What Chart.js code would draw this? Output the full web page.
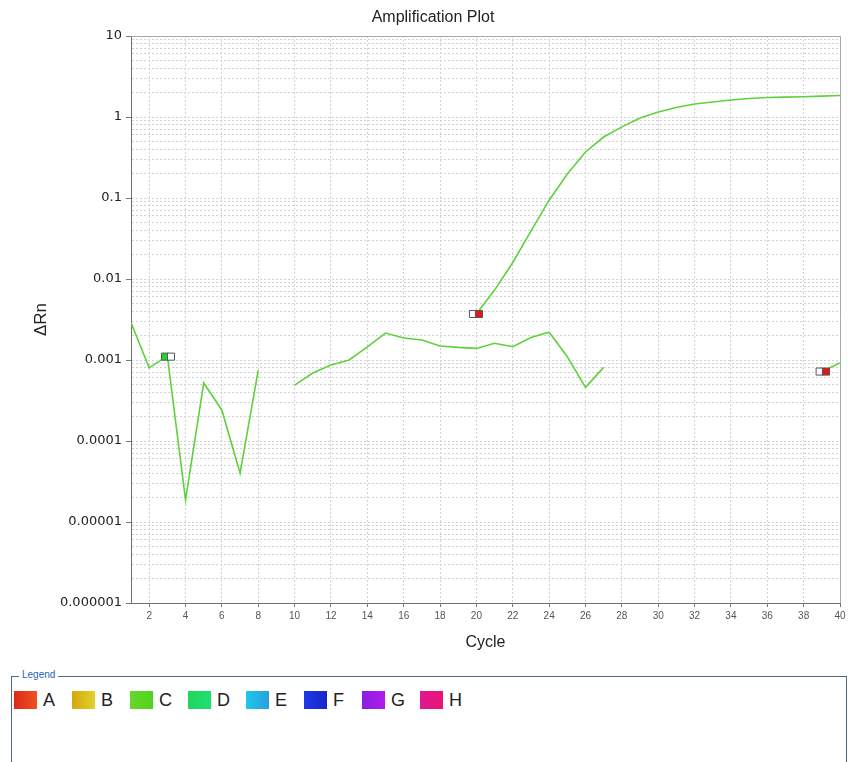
<!DOCTYPE html>
<html>
<head>
<meta charset="utf-8">
<script src="https://cdn.jsdelivr.net/npm/chart.js@4"></script>
<style>
  html, body { margin: 0; padding: 0; background: #fff; width: 851px; height: 762px; overflow: hidden; position: relative; font-family: "Liberation Sans", Arial, sans-serif; }
  #wrap { position: absolute; left: 0; top: 0; width: 851px; height: 665px; }
  #legendBox { position: absolute; left: 11px; top: 676px; width: 836px; height: 110px; border: 1px solid #4f6a82; box-sizing: border-box; }
  #legendTitle { position: absolute; left: 19px; top: 668px; font-size: 10px; line-height: 14px; color: #2b5fb4; background: #fff; padding: 0 3px; }
  #legendItems { position: absolute; left: 14px; top: 691px; display: flex; }
  .item { width: 58px; display: flex; align-items: center; height: 18px; }
  .sw { width: 23px; height: 18px; margin-right: 6px; }
  .lab { font-size: 18px; color: #222; line-height: 18px; }
</style>
</head>
<body>
<div id="wrap"><canvas id="c" width="851" height="665"></canvas></div>
<div id="legendBox"></div>
<div id="legendTitle">Legend</div>
<div id="legendItems"></div>
<script>
// ---------- data ----------
const chartTitle = "Amplification Plot";
const xTitle = "Cycle";
const yTitle = "\u0394Rn";
const cycles = [1,2,3,4,5,6,7,8,9,10,11,12,13,14,15,16,17,18,19,20,21,22,23,24,25,26,27,28,29,30,31,32,33,34,35,36,37,38,39,40];
// well with no amplification (values <= 0 are not drawn on the log axis)
const wellC1 = [0.0029,0.0008,0.00112,0.0000187,0.00052,0.00024,0.00004,0.00075,null,0.00049,
                0.00069,0.00087,0.001,0.00145,0.00215,0.00187,0.00177,0.00149,0.00143,0.00139,
                0.00161,0.00146,0.0019,0.0022,0.0011,0.00046,0.00081,null,null,null,
                null,null,null,null,null,null,null,null,0.00072,0.00092];
// amplifying well
const wellC2 = [null,null,null,null,null,null,null,null,null,null,
                null,null,null,null,null,null,null,null,null,0.0037,
                0.0073,0.016,0.039,0.094,0.198,0.37,0.566,0.755,0.97,1.15,
                1.31,1.45,1.53,1.62,1.69,1.74,1.76,1.78,1.81,1.84];
// baseline markers (start / end)
const markerCycles = [2.87, 3.2, 19.81, 20.14, 38.88, 39.23];
const markerValues = [0.0011, 0.0011, 0.0037, 0.0037, 0.00072, 0.00072];
const xTickValues = [2,4,6,8,10,12,14,16,18,20,22,24,26,28,30,32,34,36,38,40];
const yTickLabels = ["0.000001","0.00001","0.0001","0.001","0.01","0.1","1","10"];
const legendNames = ["A","B","C","D","E","F","G","H"];

// ---------- styles ----------
const lineColor = "#5fd13c";
const markerFill = ["#1fd62a", "#ffffff", "#ffffff", "#e01818", "#ffffff", "#e01818"];
const legendFills = [
  "linear-gradient(90deg,#dc2a18,#f0521e)",
  "linear-gradient(90deg,#d2a80c,#e2d22c)",
  "linear-gradient(90deg,#6ad62c,#4fd41c)",
  "linear-gradient(90deg,#22d45e,#1ee070)",
  "linear-gradient(90deg,#1ec8ea,#2a9ee0)",
  "linear-gradient(90deg,#1c3ae6,#1a24c8)",
  "linear-gradient(90deg,#8a1ee0,#b01cec)",
  "linear-gradient(90deg,#e01890,#ec1476)"
];

// ---------- legend (HTML) ----------
const li = document.getElementById('legendItems');
legendNames.forEach((n, i) => {
  const d = document.createElement('div'); d.className = 'item';
  const s = document.createElement('div'); s.className = 'sw'; s.style.background = legendFills[i];
  const t = document.createElement('span'); t.className = 'lab'; t.textContent = n;
  d.appendChild(s); d.appendChild(t); li.appendChild(d);
});

// ---------- chart ----------
const toPoints = arr => cycles.map((c, i) => ({x: c, y: arr[i]}));
const markerPts = markerCycles.map((c, i) => ({x: c, y: markerValues[i]}));

const framePlugin = {
  id: 'frame',
  beforeDatasetsDraw(chart) {
    const {ctx, chartArea: a} = chart;
    ctx.save();
    ctx.strokeStyle = '#a8a8a8';
    ctx.lineWidth = 1;
    ctx.beginPath();
    ctx.moveTo(a.left, a.top + 0.5); ctx.lineTo(a.right + 0.5, a.top + 0.5);
    ctx.lineTo(a.right + 0.5, a.bottom);
    ctx.stroke();
    ctx.restore();
  },
  afterDraw(chart) {
    const {ctx} = chart;
    ctx.save();
    ctx.fillStyle = '#222';
    ctx.font = '16px "Liberation Sans", Arial, sans-serif';
    ctx.textAlign = 'center';
    ctx.textBaseline = 'middle';
    ctx.fillText(chartTitle, 433, 18);
    ctx.restore();
  }
};

const isMajor = v => Math.abs(Math.log10(v) - Math.round(Math.log10(v))) < 1e-9;

new Chart(document.getElementById('c'), {
  type: 'line',
  data: {
    datasets: [
      { label: 'markers', type: 'scatter', data: markerPts, showLine: false,
        pointStyle: 'rect', pointRadius: 5, pointHoverRadius: 5,
        pointBackgroundColor: markerFill, pointBorderColor: '#555', pointBorderWidth: 1, order: 0 },
      { label: 'C1', data: toPoints(wellC1), borderColor: lineColor, borderWidth: 1.6,
        pointRadius: 0, tension: 0, spanGaps: false, fill: false, order: 1 },
      { label: 'C2', data: toPoints(wellC2), borderColor: lineColor, borderWidth: 1.6,
        pointRadius: 0, tension: 0, spanGaps: false, fill: false, order: 1 }
    ]
  },
  options: {
    responsive: false,
    animation: false,
    devicePixelRatio: 1,
    layout: { padding: { top: 36, right: 11, left: 0, bottom: 0 } },
    plugins: { legend: { display: false }, title: { display: false }, tooltip: { enabled: false } },
    scales: {
      x: {
        type: 'linear', min: 1, max: 40,
        afterBuildTicks: s => { s.ticks = xTickValues.map(v => ({value: v})); },
        afterFit: s => { s.height = 62; },
        ticks: { autoSkip: false, maxRotation: 0, padding: 3, color: '#555',
                 font: { family: '"Liberation Sans", Arial, sans-serif', size: 10 },
                 callback: v => String(v) },
        grid: { color: '#d2d2d2', lineWidth: 1, tickLength: 4, tickColor: '#777', tickBorderDash: [] },
        border: { display: true, color: '#707070', width: 1, dash: [2, 2] },
        title: { display: true, text: xTitle, color: '#222',
                 font: { family: '"Liberation Sans", Arial, sans-serif', size: 16 },
                 padding: { top: 4, bottom: 12.4 } }
      },
      y: {
        type: 'logarithmic', min: 0.000001, max: 10,
        afterBuildTicks: s => {
          const t = [];
          for (let e = -6; e <= 1; e++) {
            for (let m = 1; m <= 9; m++) {
              const v = m * Math.pow(10, e);
              if (v > 10.0001) break;
              t.push({value: v});
            }
          }
          s.ticks = t;
        },
        afterFit: s => { s.width = 131; },
        ticks: { autoSkip: false, padding: 4, color: '#222',
                 font: { family: '"DejaVu Sans", sans-serif', size: 13 },
                 callback: v => isMajor(v) ? yTickLabels[Math.round(Math.log10(v)) + 6] : '' },
        grid: { color: '#d2d2d2', lineWidth: 1, tickLength: 5, tickBorderDash: [],
                tickColor: ctx => (ctx.tick && isMajor(ctx.tick.value)) ? '#777' : 'rgba(0,0,0,0)' },
        border: { display: true, color: '#707070', width: 1, dash: [2, 2] },
        title: { display: true, text: yTitle, color: '#222',
                 font: { family: '"Liberation Sans", Arial, sans-serif', size: 17 },
                 padding: { top: 31, bottom: 0 } }
      }
    }
  },
  plugins: [framePlugin]
});
</script>
</body>
</html>
